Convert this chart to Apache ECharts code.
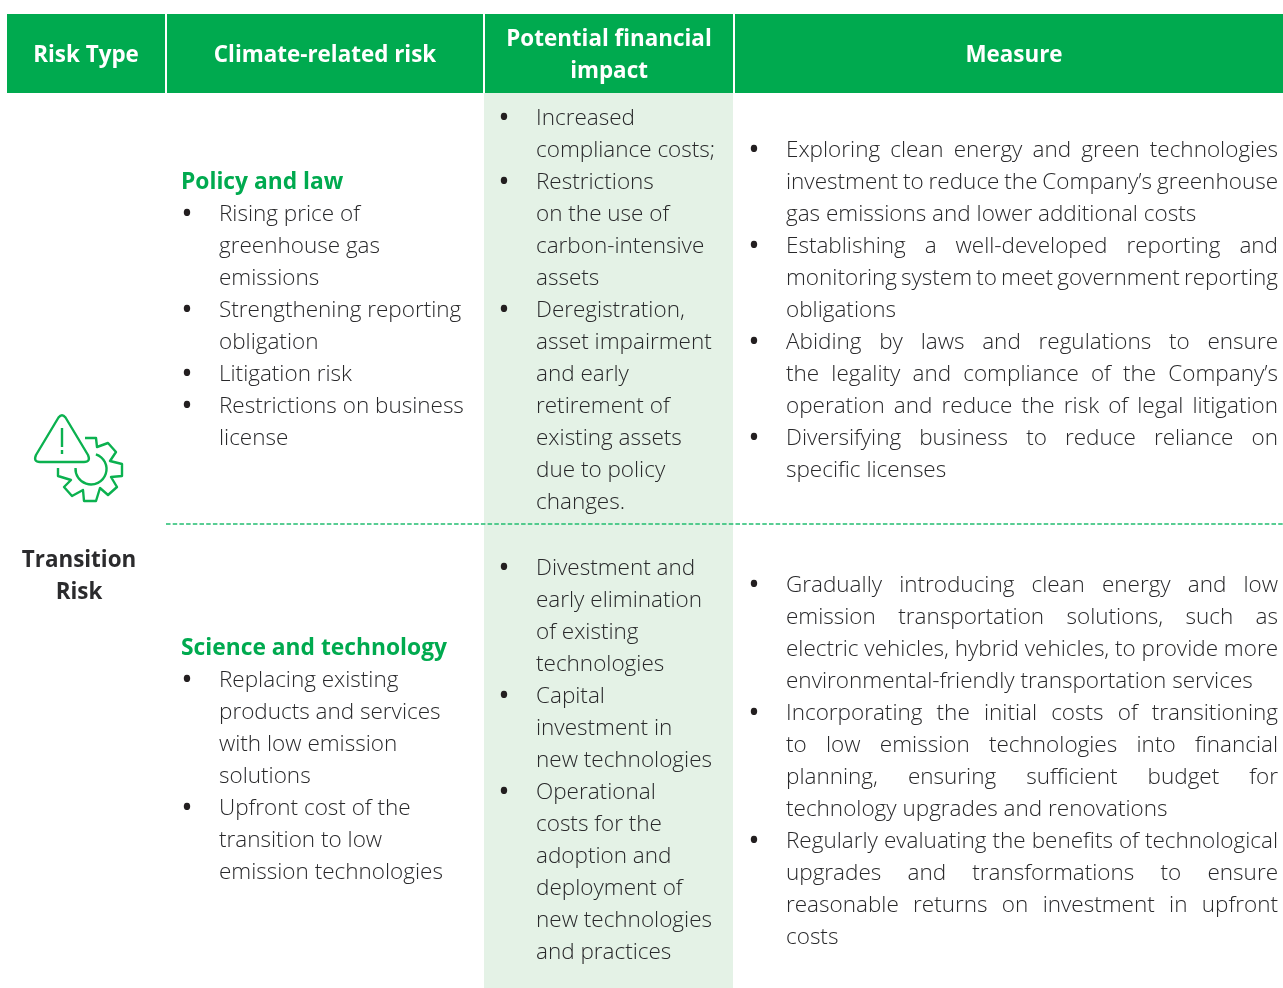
<!DOCTYPE html>
<html><head><meta charset="utf-8">
<style>html,body{margin:0;padding:0;background:#fff}#c{width:1283px;height:988px}</style>
<script src="https://cdn.jsdelivr.net/npm/echarts@6/dist/echarts.min.js"></script>
</head><body><div id="c"></div>
<script>
const headers = ['Risk Type','Climate-related risk','Potential financial\nimpact','Measure'];
const riskType = ['Transition','Risk'];
const policyHeading = 'Policy and law';
const scienceHeading = 'Science and technology';
const policyRisks = ['* Rising price of','greenhouse gas','emissions','* Strengthening reporting','obligation','* Litigation risk','* Restrictions on business','license'];
const scienceRisks = ['* Replacing existing','products and services','with low emission','solutions','* Upfront cost of the','transition to low','emission technologies'];
const policyImpact = ['* Increased','compliance costs;','* Restrictions','on the use of','carbon-intensive','assets','* Deregistration,','asset impairment','and early','retirement of','existing assets','due to policy','changes.'];
const scienceImpact = ['* Divestment and','early elimination','of existing','technologies','* Capital','investment in','new technologies','* Operational','costs for the','adoption and','deployment of','new technologies','and practices'];
const policyMeasure = ['* Exploring clean energy and green technologies','investment to reduce the Company\u2019s greenhouse','gas emissions and lower additional costs','* Establishing a well-developed reporting and','monitoring system to meet government reporting','obligations','* Abiding by laws and regulations to ensure','the legality and compliance of the Company\u2019s','operation and reduce the risk of legal litigation','* Diversifying business to reduce reliance on','specific licenses'];
const scienceMeasure = ['* Gradually introducing clean energy and low','emission transportation solutions, such as','electric vehicles, hybrid vehicles, to provide more','environmental-friendly transportation services','* Incorporating the initial costs of transitioning','to low emission technologies into financial','planning, ensuring sufficient budget for','technology upgrades and renovations','* Regularly evaluating the benefits of technological','upgrades and transformations to ensure','reasonable returns on investment in upfront','costs'];
const policyMeasureRagged = [2,5,10];
const scienceMeasureRagged = [3,7,11];

const FONT = '"Open Sans"';
const SIZE = 22.5, HEAD = 22.4, SUB = 22.8, PITCH = 32;
const GREEN = '#00aa4f', PALE = '#e4f2e6', INK = '#28282a';
const els = [];
const font = (w,s)=>`${w} ${s}px ${FONT}`;
const ctx = document.createElement('canvas').getContext('2d');
const tw = (t,f)=>{ctx.font=f;return ctx.measureText(t).width;};

function txt(t,x,y,opt){
  els.push({type:'text',silent:true,style:Object.assign({text:t,x,y,fill:INK,font:font(300,SIZE),align:'left',verticalAlign:'middle'},opt||{})});
}
function rect(x,y,w,h,c){els.push({type:'rect',silent:true,shape:{x,y,width:w,height:h},style:{fill:c}});}
function block(lines,xBullet,xText,y0,opts){
  opts=opts||{};
  lines.forEach((raw,i)=>{
    const y=y0+i*PITCH, bullet=raw.startsWith('* '), line=bullet?raw.slice(2):raw;
    if(bullet) txt('\u2022',xBullet,y,{align:'center',fill:'#231f20',font:font(400,SIZE+8)});
    if(opts.right && !opts.ragged.includes(i)){
      const words=line.split(' '), f=font(300,SIZE);
      const total=words.reduce((s,w)=>s+tw(w,f),0);
      const gap=(opts.right-xText-total)/(words.length-1);
      let x=xText;
      words.forEach(w=>{txt(w,x,y);x+=tw(w,f)+gap;});
    } else txt(line,xText,y);
  });
}

rect(7,14,158,79,GREEN);rect(167,14,316,79,GREEN);rect(485,14,248,79,GREEN);rect(735,14,548,79,GREEN);
rect(484,93,249,895,PALE);
const hf=font(700,HEAD);
txt(headers[0],86,56,{fill:'#fff',align:'center',font:hf});
txt(headers[1],325,56,{fill:'#fff',align:'center',font:hf});
headers[2].split('\n').forEach((t,i)=>txt(t,609,40+i*32,{fill:'#fff',align:'center',font:hf}));
txt(headers[3],1014,56,{fill:'#fff',align:'center',font:hf});

els.push({type:'line',silent:true,shape:{x1:166,y1:524,x2:1283,y2:524},style:{stroke:'#22bd70',lineWidth:1.6,lineDash:[4.5,2.2]}});

riskType.forEach((t,i)=>txt(t,79,560.5+i*32,{align:'center',font:font(700,HEAD),fill:'#2b2b2d'}));
txt(policyHeading,181,182.5,{font:font(700,SUB),fill:GREEN});
txt(scienceHeading,181,648.5,{font:font(700,SUB),fill:GREEN});
block(policyRisks,187,219,215);
block(scienceRisks,187,219,681);
block(policyImpact,504,536,119);
block(scienceImpact,504,536,569);
block(policyMeasure,754,786,151,{right:1278,ragged:policyMeasureRagged});
block(scienceMeasure,754,786,586,{right:1278,ragged:scienceMeasureRagged});

// icon
const iconStyle={stroke:'#0bb14f',fill:'none',lineWidth:2.4,lineJoin:'round',lineCap:'butt'};
echarts.graphic.registerShape('warnTriangle',echarts.graphic.extendPath('M58.5,417.5 Q62,413 65.5,417.5 L88,455 Q91,462 84,462 L40,462 Q33,462 36,455 Z',{}));
els.push({type:'warnTriangle',silent:true,style:iconStyle});
els.push({type:'line',silent:true,shape:{x1:62,y1:428,x2:62,y2:447},style:iconStyle});
els.push({type:'line',silent:true,shape:{x1:62,y1:450,x2:62,y2:454},style:iconStyle});
els.push({type:'polyline',silent:true,shape:{points:[[85,438],[96,438],[97,447],[108,443],[116,452],[110,461],[122,464],[122,476],[111,477],[117,487],[108,495],[100,488],[96,501],[84,501],[83,490],[72,496],[64,487],[71,480],[58,476],[58,468]]},style:iconStyle});
els.push({type:'arc',silent:true,shape:{cx:91,cy:469,r:15.5,startAngle:-1.25,endAngle:Math.PI*1.02,clockwise:true},style:iconStyle});

const chart=echarts.init(document.getElementById('c'),null,{renderer:'canvas',width:1283,height:988});
chart.setOption({animation:false,graphic:{elements:els}});
</script></body></html>
